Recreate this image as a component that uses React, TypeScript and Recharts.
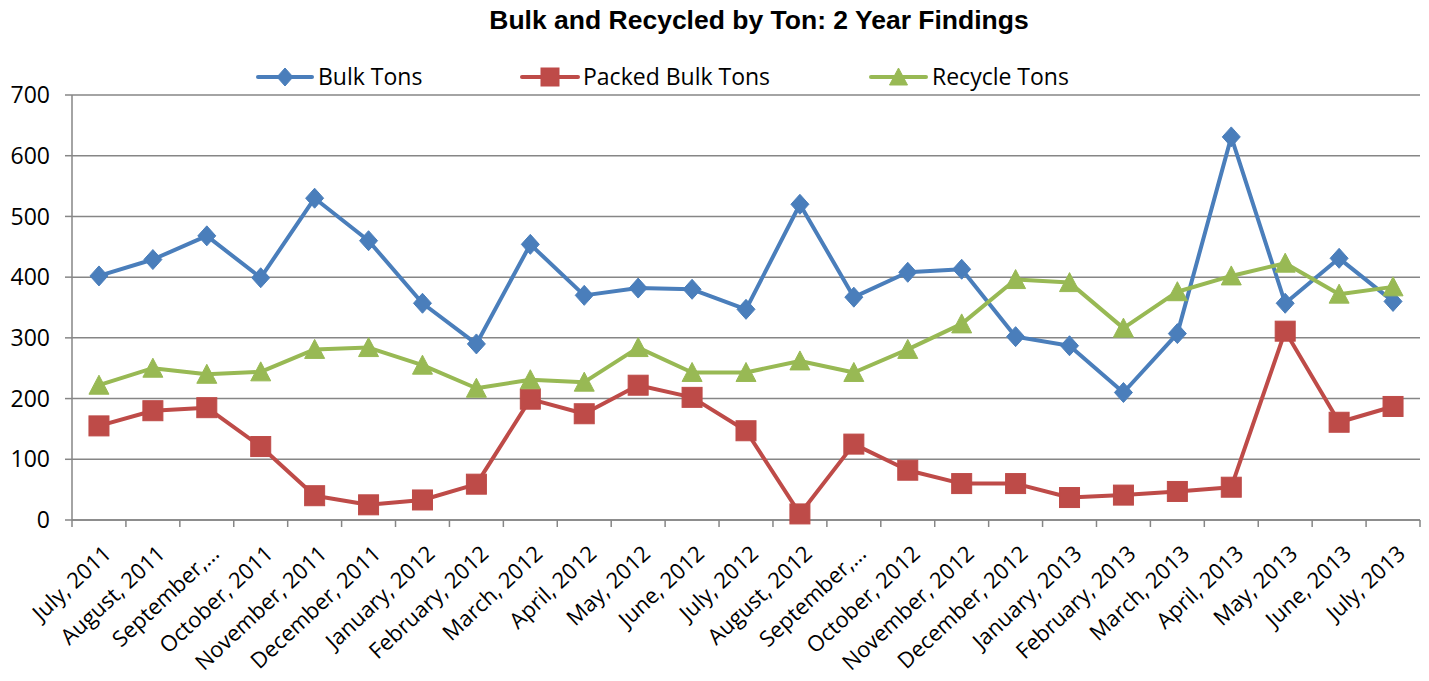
import React from "react";
import { LineChart, Line, XAxis, YAxis, CartesianGrid } from "recharts";

const categories = [
  "July, 2011", "August, 2011", "September,…", "October, 2011", "November, 2011",
  "December, 2011", "January, 2012", "February, 2012", "March, 2012", "April, 2012",
  "May, 2012", "June, 2012", "July, 2012", "August, 2012", "September,…",
  "October, 2012", "November, 2012", "December, 2012", "January, 2013", "February, 2013",
  "March, 2013", "April, 2013", "May, 2013", "June, 2013", "July, 2013",
];

const bulkTons = [402, 429, 468, 399, 530, 460, 357, 290, 454, 370, 382, 380, 347, 520, 367, 408, 413, 302, 287, 210, 307, 631, 357, 431, 360];
const packedBulkTons = [155, 180, 185, 121, 40, 25, 33, 59, 199, 175, 222, 202, 147, 10, 125, 82, 60, 60, 37, 41, 47, 54, 311, 161, 187];
const recycleTons = [222, 250, 240, 244, 281, 284, 255, 217, 231, 227, 284, 243, 243, 262, 243, 281, 323, 396, 391, 316, 376, 402, 423, 372, 384];

const yTicks = [0, 100, 200, 300, 400, 500, 600, 700];
const seriesNames = ["Bulk Tons", "Packed Bulk Tons", "Recycle Tons"];
const title = "Bulk and Recycled by Ton: 2 Year Findings";

const data = categories.map((label, i) => ({
  idx: i,
  label,
  bulk: bulkTons[i],
  packed: packedBulkTons[i],
  recycle: recycleTons[i],
}));

// ticks: integer values carry labels, half values carry tick marks between categories
const xTicks: number[] = [];
for (let i = 0; i <= categories.length * 2; i++) xTicks.push(i / 2 - 0.5);

const BLUE = "#4A7EBB";
const RED = "#BE4B48";
const GREEN = "#98B954";
const GRID = "#868686";
const FONT = "'Open Sans', 'Noto Sans', sans-serif";

const diamond = (cx: number, cy: number, c: string, hw = 9, hh = 10) => (
  <polygon points={`${cx},${cy - hh} ${cx + hw},${cy} ${cx},${cy + hh} ${cx - hw},${cy}`} fill={c} stroke={c} strokeWidth={1} />
);
const square = (cx: number, cy: number, c: string, h = 10) => (
  <rect x={cx - h} y={cy - h} width={h * 2} height={h * 2} fill={c} stroke={c} strokeWidth={1} />
);
const triangle = (cx: number, cy: number, c: string, h = 10) => (
  <polygon points={`${cx},${cy - h} ${cx + h},${cy + h - 1} ${cx - h},${cy + h - 1}`} fill={c} stroke={c} strokeWidth={1} />
);

const makeDot = (kind: "d" | "s" | "t", color: string) => (props: any) => {
  const { cx, cy, index } = props;
  if (cx == null || cy == null) return <g key={`n-${index}`} />;
  return (
    <g key={`${kind}-${index}`}>
      {kind === "d" ? diamond(cx, cy, color) : kind === "s" ? square(cx, cy, color) : triangle(cx, cy, color)}
    </g>
  );
};

const XTick = (props: any) => {
  const { x, y, payload } = props;
  const v = payload.value as number;
  if (!Number.isInteger(v)) {
    return <line x1={x} y1={y} x2={x} y2={y + 7} stroke={GRID} strokeWidth={1.5} />;
  }
  return (
    <g transform={`translate(${x + 3},${y + 24})`}>
      <text x={0} y={0} dy="0.71em" textAnchor="end" transform="rotate(-43)" fontSize={22} fontFamily={FONT} fill="#000">
        {categories[v]}
      </text>
    </g>
  );
};

const legendItems = [
  { name: seriesNames[0], color: BLUE, kind: "d", x1: 258, x2: 312, tx: 318 },
  { name: seriesNames[1], color: RED, kind: "s", x1: 522, x2: 578, tx: 583 },
  { name: seriesNames[2], color: GREEN, kind: "t", x1: 871, x2: 926, tx: 932 },
];

export default function App() {
  return (
    <div style={{ position: "relative", width: 1429, height: 681, margin: -8, background: "#fff" }}>
      <LineChart width={1429} height={681} data={data} margin={{ top: 95, right: 9, left: 0, bottom: 0 }}>
        <CartesianGrid vertical={false} stroke={GRID} strokeWidth={1.5} />
        <XAxis
          dataKey="idx"
          type="number"
          domain={[-0.5, 24.5]}
          allowDataOverflow
          ticks={xTicks}
          interval={0}
          tick={<XTick />}
          tickLine={false}
          tickSize={0}
          tickMargin={0}
          axisLine={{ stroke: GRID, strokeWidth: 1.5 }}
          height={161}
        />
        <YAxis
          domain={[0, 700]}
          ticks={yTicks}
          interval={0}
          width={72}
          tickSize={7}
          tickMargin={15}
          tickLine={{ stroke: GRID, strokeWidth: 1.5 }}
          axisLine={{ stroke: GRID, strokeWidth: 1.5 }}
          tick={{ fontSize: 23, fontFamily: FONT, fill: "#000" }}
        />
        <Line dataKey="bulk" name={seriesNames[0]} stroke={BLUE} strokeWidth={4} strokeLinejoin="round" dot={makeDot("d", BLUE)} activeDot={false} isAnimationActive={false} />
        <Line dataKey="packed" name={seriesNames[1]} stroke={RED} strokeWidth={4} strokeLinejoin="round" dot={makeDot("s", RED)} activeDot={false} isAnimationActive={false} />
        <Line dataKey="recycle" name={seriesNames[2]} stroke={GREEN} strokeWidth={4} strokeLinejoin="round" dot={makeDot("t", GREEN)} activeDot={false} isAnimationActive={false} />
      </LineChart>
      <svg width={1429} height={95} style={{ position: "absolute", left: 0, top: 0, pointerEvents: "none" }}>
        <text x={759} y={29} textAnchor="middle" fontFamily="'Liberation Sans', Arial, sans-serif" fontWeight="bold" fontSize={26.5} fill="#000">
          {title}
        </text>
        {legendItems.map((it) => {
          const cx = (it.x1 + it.x2) / 2;
          const cy = 77;
          return (
            <g key={it.name}>
              <line x1={it.x1} y1={cy} x2={it.x2} y2={cy} stroke={it.color} strokeWidth={4} strokeLinecap="round" />
              {it.kind === "d" ? diamond(cx, cy, it.color, 8, 9) : it.kind === "s" ? square(cx, cy, it.color, 9) : triangle(cx, cy, it.color, 9)}
              <text x={it.tx} y={cy} dy="0.36em" fontFamily={FONT} fontSize={23} fill="#000">
                {it.name}
              </text>
            </g>
          );
        })}
      </svg>
    </div>
  );
}
